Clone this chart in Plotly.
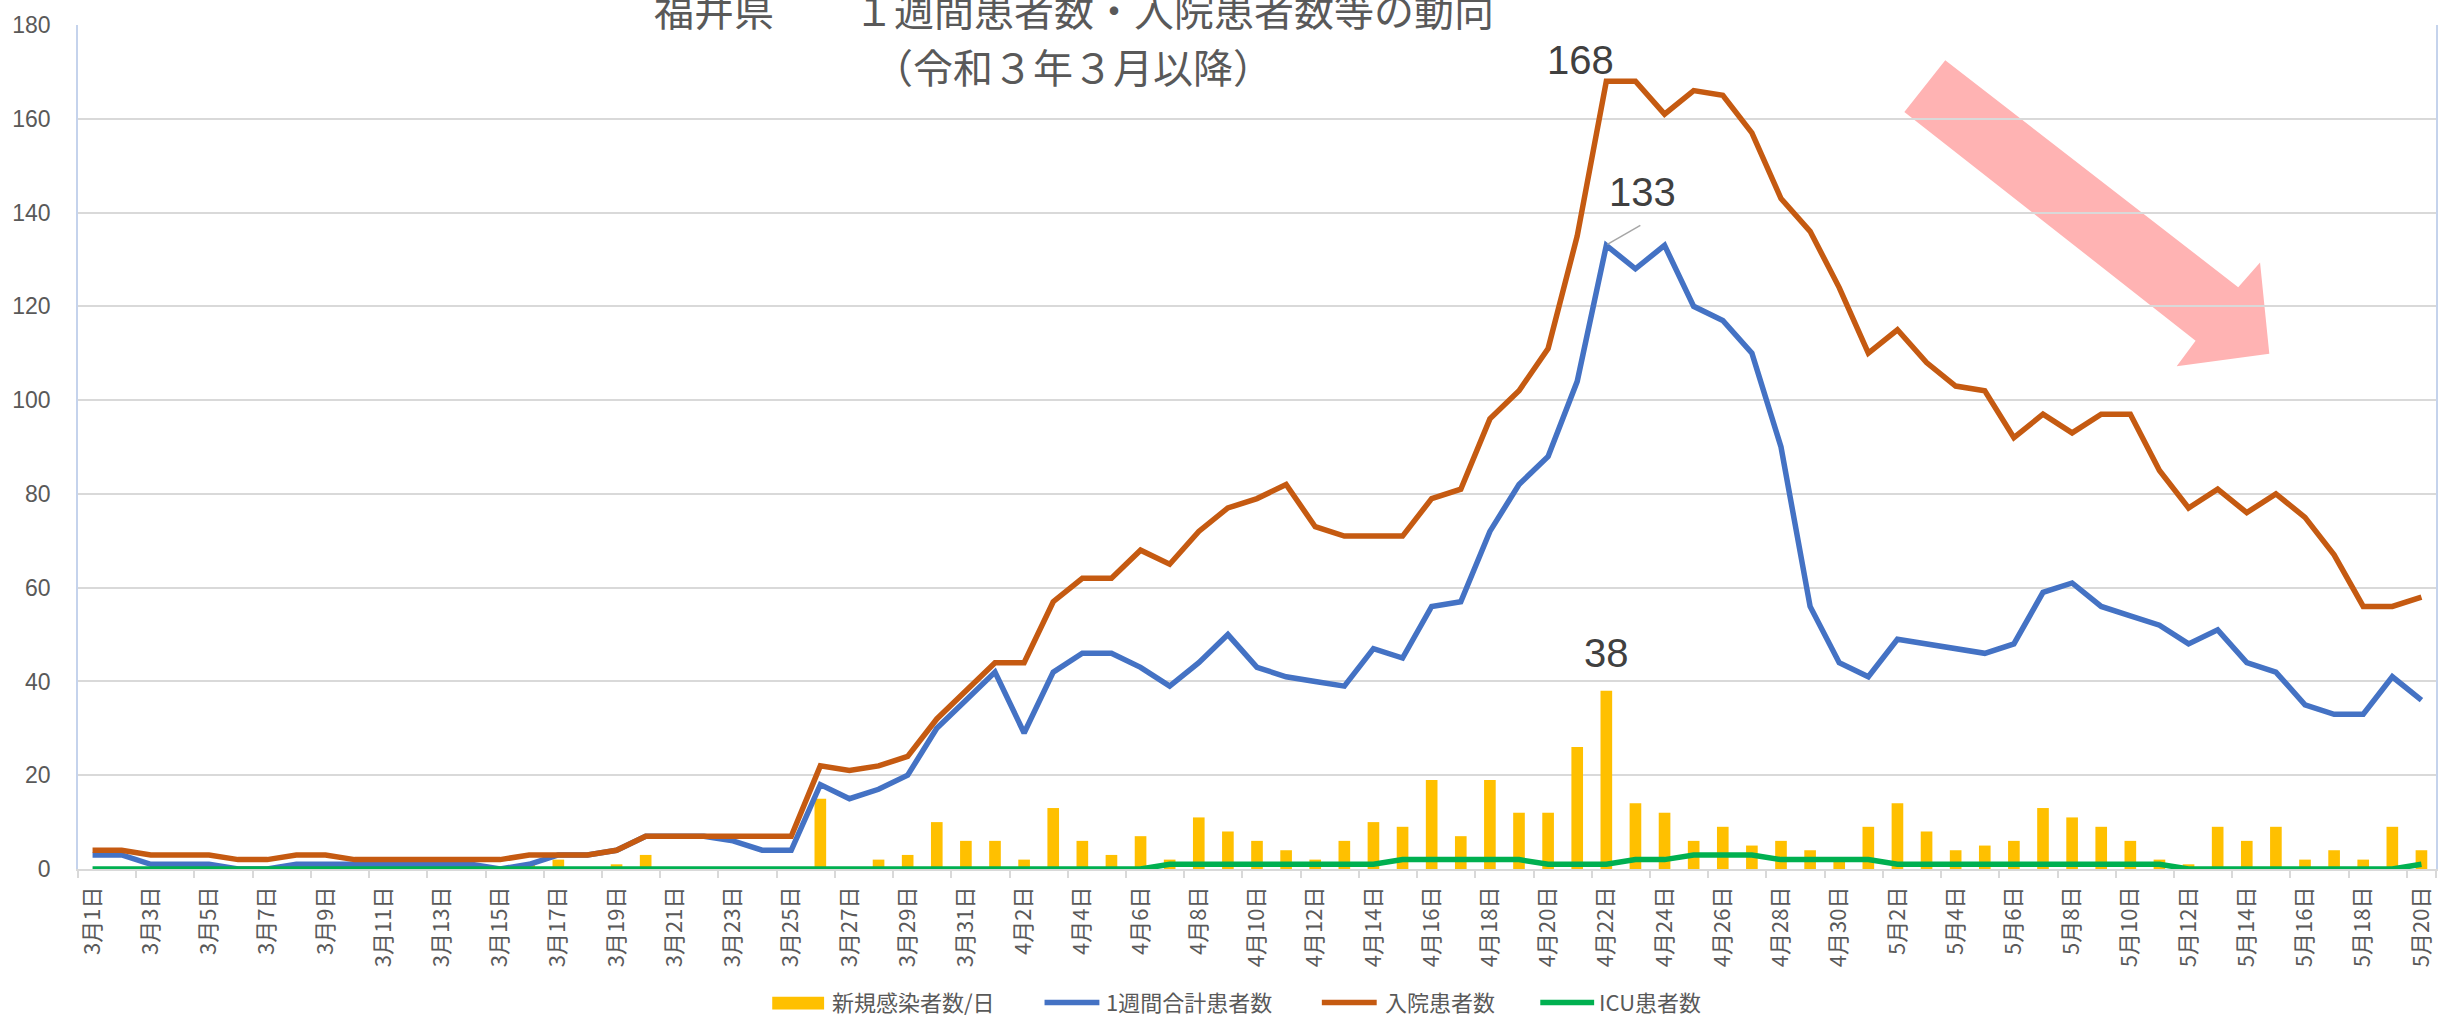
import plotly.graph_objects as go

# ---------------- data ----------------
dates = [f"3月{d}日" for d in range(1, 32)] + [f"4月{d}日" for d in range(1, 31)] + [f"5月{d}日" for d in range(1, 21)]

new_cases = [
    0, 0, 0, 0, 0, 0, 0, 1, 0, 0, 0, 0, 0, 0, 0, 1, 2, 0, 1, 3,
    0, 0, 0, 0, 0, 15, 0, 2, 3, 10, 6,
    6, 2, 13, 6, 3, 7, 2, 11, 8, 6, 4, 2, 6, 10, 9, 19, 7, 19, 12, 12,
    26, 38, 14, 12, 6, 9, 5, 6, 4, 2,
    9, 14, 8, 4, 5, 6, 13, 11, 9, 6, 2, 1, 9, 6, 9, 2, 4, 2, 9, 4,
]
weekly_total = [
    3, 3, 1, 1, 1, 0, 0, 1, 1, 1, 1, 1, 1, 1, 0, 1, 3, 3, 4, 7,
    7, 7, 6, 4, 4, 18, 15, 17, 20, 30, 36,
    42, 29, 42, 46, 46, 43, 39, 44, 50, 43, 41, 40, 39, 47, 45, 56, 57, 72, 82, 88,
    104, 133, 128, 133, 120, 117, 110, 90, 56, 44,
    41, 49, 48, 47, 46, 48, 59, 61, 56, 54, 52, 48, 51, 44, 42, 35, 33, 33, 41, 36,
]
hospitalized = [
    4, 4, 3, 3, 3, 2, 2, 3, 3, 2, 2, 2, 2, 2, 2, 3, 3, 3, 4, 7,
    7, 7, 7, 7, 7, 22, 21, 22, 24, 32, 38,
    44, 44, 57, 62, 62, 68, 65, 72, 77, 79, 82, 73, 71, 71, 71, 79, 81, 96, 102, 111,
    135, 168, 168, 161, 166, 165, 157, 143, 136, 124,
    110, 115, 108, 103, 102, 92, 97, 93, 97, 97, 85, 77, 81, 76, 80, 75, 67, 56, 56, 58,
]
icu = [
    0, 0, 0, 0, 0, 0, 0, 0, 0, 0, 0, 0, 0, 0, 0, 0, 0, 0, 0, 0,
    0, 0, 0, 0, 0, 0, 0, 0, 0, 0, 0,
    0, 0, 0, 0, 0, 0, 1, 1, 1, 1, 1, 1, 1, 1, 2, 2, 2, 2, 2, 1,
    1, 1, 2, 2, 3, 3, 3, 2, 2, 2,
    2, 1, 1, 1, 1, 1, 1, 1, 1, 1, 1, 0, 0, 0, 0, 0, 0, 0, 0, 1,
]

series_names = ["新規感染者数/日", "1週間合計患者数", "入院患者数", "ICU患者数"]
series_colors = ["#FFC000", "#4472C4", "#C55A11", "#00B050"]
y_ticks = [0, 20, 40, 60, 80, 100, 120, 140, 160, 180]
title_line1 = "福井県　　１週間患者数・入院患者数等の動向"
title_line2 = "（令和３年３月以降）"

# ---------------- geometry helpers (pixel -> paper) ----------------
W, H = 2456, 1018
PL, PR, PT, PB = 72, 2436, 16, 869


def px(x):
    return (x - PL) / (PR - PL)


def py(y):
    return (PB - y) / (PB - PT)


GRAY = "#595959"
CJK = "Noto Sans CJK JP"
NUM = "Liberation Sans, Arial, sans-serif"

fig = go.Figure()
fig.add_trace(go.Bar(x=dates, y=new_cases, name=series_names[0],
                     marker=dict(color=series_colors[0], line=dict(width=0))))
fig.add_trace(go.Scatter(x=dates, y=weekly_total, mode="lines", name=series_names[1],
                         line=dict(color=series_colors[1], width=5.5)))
fig.add_trace(go.Scatter(x=dates, y=hospitalized, mode="lines", name=series_names[2],
                         line=dict(color=series_colors[2], width=5.5)))
fig.add_trace(go.Scatter(x=dates, y=icu, mode="lines", name=series_names[3],
                         line=dict(color=series_colors[3], width=5.5)))

fig.update_layout(
    width=W, height=H,
    margin=dict(l=PL, r=W - PR, t=PT, b=H - PB, pad=0),
    plot_bgcolor="rgba(0,0,0,0)", paper_bgcolor="white",
    bargap=0.6, showlegend=False,
    font=dict(family=CJK, color=GRAY),
)
fig.update_xaxes(
    type="category", range=[-0.5, len(dates) - 0.5],
    tickmode="array", tickvals=dates[::2], ticktext=dates[::2],
    tickangle=-90, tickson="boundaries",
    ticks="outside", ticklen=7, tickwidth=1.5, tickcolor="#D9D9D9",
    showline=True, linecolor="#D9D9D9", linewidth=1.5,
    showgrid=False, zeroline=False,
    tickfont=dict(size=22, color=GRAY, family=CJK),
    ticklabelstandoff=7,
)
fig.update_yaxes(
    range=[0, 180], tickmode="array", tickvals=y_ticks,
    showgrid=True, gridcolor="#D9D9D9", gridwidth=1.5, zeroline=False,
    showline=True, linecolor="#C5D3EC", linewidth=1.5, mirror=True,
    ticks="", tickfont=dict(size=23, family=NUM, color=GRAY),
    ticklabelstandoff=21,
)

# ---------------- data labels ----------------
LBL = dict(size=40, family=NUM, color="#404040")
ih = hospitalized.index(max(hospitalized))
fig.add_annotation(x=dates[ih], y=hospitalized[ih], text=str(hospitalized[ih]), showarrow=False,
                   xshift=-26, yshift=21, yanchor="middle", font=LBL)
iw = weekly_total.index(max(weekly_total))
fig.add_annotation(x=dates[iw], y=weekly_total[iw], text=str(weekly_total[iw]), showarrow=False,
                   xshift=36, yshift=53, yanchor="middle", font=LBL)
fig.add_shape(type="line", xref="x", yref="y",
              xsizemode="pixel", xanchor=dates[iw], x0=1, x1=34,
              ysizemode="pixel", yanchor=weekly_total[iw], y0=1, y1=20,
              line=dict(color="#A6A6A6", width=1.5))
inc = new_cases.index(max(new_cases))
fig.add_annotation(x=dates[inc], y=new_cases[inc], text=str(new_cases[inc]), showarrow=False,
                   yshift=38, yanchor="middle", font=LBL)

# ---------------- title ----------------
fig.add_annotation(xref="paper", yref="paper", x=px(1071), y=py(0), text=title_line1,
                   showarrow=False, xanchor="center", yanchor="middle", bgcolor="white",
                   font=dict(size=40, color=GRAY, family=CJK))
fig.add_annotation(xref="paper", yref="paper", x=px(1070), y=py(57), text=title_line2,
                   showarrow=False, xanchor="center", yanchor="middle",
                   font=dict(size=40, color=GRAY, family=CJK))

# ---------------- decorative arrow ----------------
arrow_pts = [(1944, 51.7), (2237.7, 281), (2259.6, 256), (2268.9, 348.3),
             (2176, 361), (2195, 335), (1903, 104)]
path = "M " + " L ".join(f"{px(x):.5f},{py(y):.5f}" for x, y in arrow_pts) + " Z"
fig.add_shape(type="path", xref="paper", yref="paper", path=path,
              fillcolor="#FFB3B3", line=dict(width=0), layer="below")

# ---------------- manual legend ----------------
LY = 1004
fig.add_shape(type="rect", xref="paper", yref="paper",
              x0=px(768), x1=px(820), y0=py(1011), y1=py(998),
              fillcolor=series_colors[0], line=dict(width=0))
for (x0, x1), col in zip([(1041, 1096), (1319, 1374), (1538, 1592)], series_colors[1:]):
    fig.add_shape(type="line", xref="paper", yref="paper",
                  x0=px(x0), x1=px(x1), y0=py(LY), y1=py(LY),
                  line=dict(color=col, width=5.5))
for xt, name in zip([826, 1101, 1380, 1595], series_names):
    fig.add_annotation(xref="paper", yref="paper", x=px(xt), y=py(LY - 2), text=name,
                       showarrow=False, xanchor="left", yanchor="middle",
                       font=dict(size=22, color=GRAY, family=CJK))

fig.write_html("out.html", config={"displayModeBar": False},
               post_script="document.body.style.margin='0';document.body.style.overflow='hidden';")
